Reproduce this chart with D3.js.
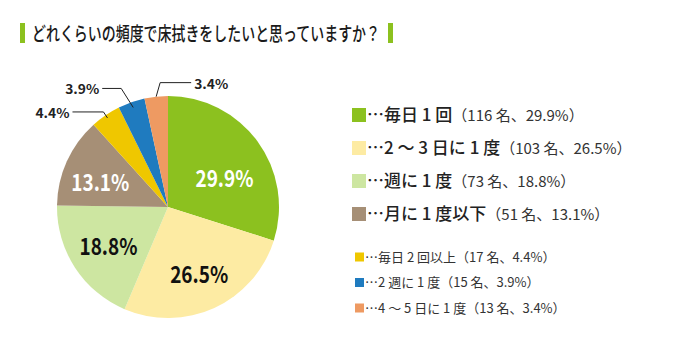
<!DOCTYPE html>
<html><head><meta charset="utf-8">
<script src="https://cdn.jsdelivr.net/npm/d3@7"></script>
<style>
html,body{margin:0;padding:0;background:#fff;}
svg{display:block;}
text{font-family:"Noto Sans CJK JP","Noto Sans",sans-serif;}
</style></head>
<body>
<svg id="chart" width="680" height="354"></svg>
<script>
const title = "どれくらいの頻度で床拭きをしたいと思っていますか？";
const categories = ["毎日1回","2～3日に1度","週に1度","月に1度以下","毎日2回以上","2週に1度","4～5日に1度"];
const counts = [116, 103, 73, 51, 17, 15, 13];
const percents = [29.9, 26.5, 18.8, 13.1, 4.4, 3.9, 3.4];
const colors = ["#8cc11f","#fdeba3","#cde6a1","#a68f76","#efc700","#1f7bbf","#ee9a62"];
const legendLabels = ["…毎日 1 回","…2 ～ 3 日に 1 度","…週に 1 度","…月に 1 度以下","…毎日 2 回以上","…2 週に 1 度","…4 ～ 5 日に 1 度"];

const svg = d3.select("#chart");

// Title
const g0 = svg.append("g");
g0.append("rect").attr("x",20).attr("y",23).attr("width",5).attr("height",20).attr("fill","#8cc11f");
g0.append("text").attr("x",32).attr("y",41).attr("font-size",19.5).attr("font-weight",500)
  .attr("fill","#1a1a1a").attr("textLength",348).attr("lengthAdjust","spacingAndGlyphs").text(title);
g0.append("rect").attr("x",388).attr("y",23).attr("width",5).attr("height",20).attr("fill","#8cc11f");

// Pie
const cx = 168, cy = 207, R = 111;
const data = percents.map((p,i)=>({p, i}));
const pie = d3.pie().sort(null).value(d=>d.p);
const arcs = pie(data);
const arc = d3.arc().innerRadius(0).outerRadius(R);
const gp = svg.append("g").attr("transform",`translate(${cx},${cy})`);
gp.selectAll("path").data(arcs).join("path")
  .attr("d",arc).attr("fill",d=>colors[d.data.i]);

const labelArc = d3.arc().innerRadius(R*0.63).outerRadius(R*0.63);
const bigColor = ["#fff","#111","#111","#fff"];
const nudge = [[0,13],[2,4],[-1,2],[-4,5]];
arcs.slice(0,4).forEach((a,k)=>{
  const c = labelArc.centroid(a);
  gp.append("text").attr("x",c[0]+nudge[k][0]).attr("y",c[1]+nudge[k][1]+8)
    .attr("text-anchor","middle").attr("font-family","'Open Sans',sans-serif")
    .attr("font-weight",700).attr("font-size",23).attr("fill",bigColor[k])
    .attr("textLength",58).attr("lengthAdjust","spacingAndGlyphs")
    .text(percents[a.data.i].toFixed(1)+"%");
});

// Small slice labels with leader lines
const leaders = {4:{r:0.97,dx:-4,dy:-6,len:31,side:-1}, 5:{r:0.95,dx:-12,dy:-19,len:19,side:-1}, 6:{r:1.0,dx:4,dy:-14,len:31,side:1}};
arcs.slice(4).forEach(a=>{
  const L = leaders[a.data.i];
  const m = (a.startAngle+a.endAngle)/2;
  const sx = Math.sin(m)*R*L.r, sy = -Math.cos(m)*R*L.r;
  const ex = sx+L.dx, ey = sy+L.dy;
  const hx = ex + L.side*L.len;
  gp.append("polyline").attr("points",`${sx},${sy} ${ex},${ey} ${hx},${ey}`)
    .attr("fill","none").attr("stroke","#222").attr("stroke-width",1);
  gp.append("text").attr("x",hx + L.side*3).attr("y",ey+6)
    .attr("text-anchor",L.side<0?"end":"start")
    .attr("font-family","'Open Sans',sans-serif").attr("font-weight",700)
    .attr("font-size",13).attr("fill","#222")
    .attr("textLength",34).attr("lengthAdjust","spacingAndGlyphs")
    .text(percents[a.data.i].toFixed(1)+"%");
});

// Legend (large)
const gl = svg.append("g");
const y1 = d3.scalePoint().domain([0,1,2,3]).range([115,214]);
[0,1,2,3].forEach(i=>{
  const y = y1(i);
  gl.append("rect").attr("x",352).attr("y",y-7).attr("width",14).attr("height",14).attr("fill",colors[i]);
  const t = gl.append("text").attr("x",367).attr("y",y+6).attr("fill","#222");
  t.append("tspan").attr("font-size",17).attr("font-weight",500).text(legendLabels[i]);
  t.append("tspan").attr("font-size",15).attr("font-weight",400).attr("fill","#333")
    .text(`（${counts[i]} 名、${percents[i]}%）`);
});
// Legend (small)
const y2 = d3.scalePoint().domain([4,5,6]).range([257,308]);
[4,5,6].forEach(i=>{
  const y = y2(i);
  gl.append("rect").attr("x",355).attr("y",y-4.5).attr("width",9).attr("height",9).attr("fill",colors[i]);
  const t = gl.append("text").attr("x",365).attr("y",y+4.5).attr("fill","#333").attr("font-size",13);
  t.append("tspan").text(legendLabels[i]);
  t.append("tspan").text(`（${counts[i]} 名、${percents[i]}%）`);
});
</script>
</body></html>
